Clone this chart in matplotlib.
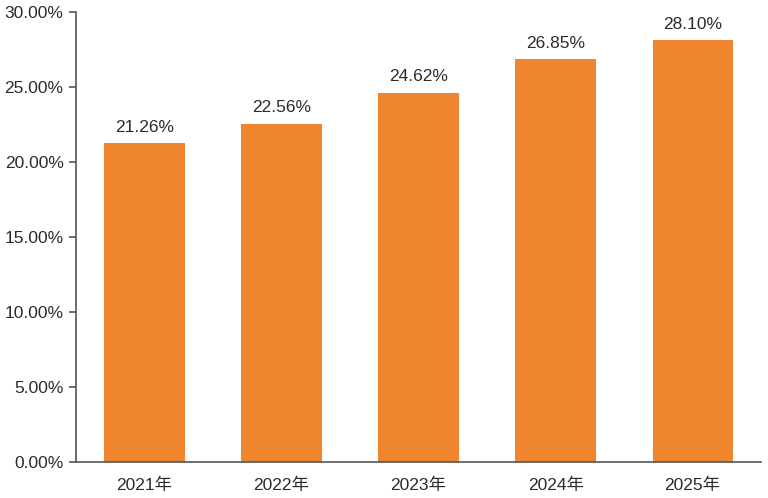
import matplotlib.pyplot as plt
from matplotlib.ticker import FuncFormatter

plt.rcParams['font.family'] = ['Liberation Sans', 'Noto Sans CJK SC', 'DejaVu Sans']

# data
years = ['2021年', '2022年', '2023年', '2024年', '2025年']
rates = [21.26, 22.56, 24.62, 26.85, 28.10]
y_ticks = [0, 5, 10, 15, 20, 25, 30]

bar_color = '#F0852F'
text_color = '#2b2b2b'

fig = plt.figure(figsize=(7.68, 4.98), dpi=100)
ax = fig.add_axes([0.099, 0.072, 0.892, 0.904])

x = range(len(years))
bars = ax.bar(x, rates, width=0.585, color=bar_color)

# value labels above bars
for rect, v in zip(bars, rates):
    ax.annotate(f'{v:.2f}%', xy=(rect.get_x() + rect.get_width() / 2, v),
                xytext=(0, 6), textcoords='offset points',
                ha='center', va='bottom', fontsize=12.5, color=text_color)

ax.set_xlim(-0.5, len(years) - 0.5)
ax.set_ylim(0, 30)
ax.set_yticks(y_ticks)
ax.yaxis.set_major_formatter(FuncFormatter(lambda v, _: f'{v:.2f}%'))
ax.set_xticks(list(x))
ax.set_xticklabels(years)

ax.spines['top'].set_visible(False)
ax.spines['right'].set_visible(False)
for s in ('left', 'bottom'):
    ax.spines[s].set_color('#555555')
    ax.spines[s].set_linewidth(1.2)

ax.tick_params(axis='y', length=5, width=1.2, color='#555555', labelsize=12.5,
               labelcolor=text_color, pad=4)
ax.tick_params(axis='x', length=0, labelsize=12.5, labelcolor=text_color, pad=11)

fig.savefig('out.png', dpi=100)
